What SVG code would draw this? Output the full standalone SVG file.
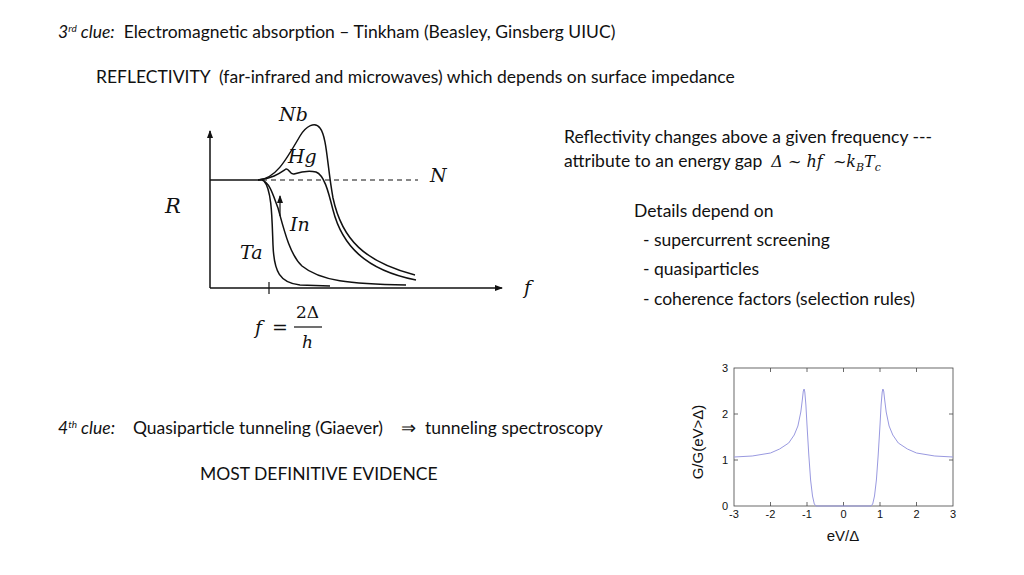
<svg xmlns="http://www.w3.org/2000/svg" width="1024" height="575" viewBox="0 0 1024 575">
<style>
text{white-space:pre}
.t{font-family:Lato,"Liberation Sans",sans-serif;font-size:17.5px;fill:#111}
.m{font-family:"DejaVu Serif","Liberation Serif",serif;font-style:italic;font-size:19px;fill:#111}
.c{fill:none;stroke:#111;stroke-width:1.5}
.g{font-family:"Liberation Sans",sans-serif;font-size:11px;fill:#111}
.gl{font-family:"Liberation Sans",sans-serif;font-size:15px;fill:#111}
</style>
<defs><marker id="ah" markerWidth="8" markerHeight="8" refX="7" refY="4" orient="auto" markerUnits="userSpaceOnUse"><path d="M0,1 L8,4 L0,7 z" fill="#111"/></marker></defs>
<rect width="1024" height="575" fill="#fff"/>
<text class="t" x="58" y="38" xml:space="preserve"><tspan font-style="italic">3<tspan style="font-size:10px" dy="-6">rd</tspan><tspan dy="6"> clue:</tspan></tspan>  Electromagnetic absorption – Tinkham (Beasley, Ginsberg UIUC)</text>
<text class="t" x="96" y="83" xml:space="preserve">REFLECTIVITY  (far-infrared and microwaves) which depends on surface impedance</text>
<g id="reflectivity">
<line x1="210" y1="288" x2="210" y2="131" stroke="#111" stroke-width="1.5" marker-end="url(#ah)"/>
<line x1="210" y1="288" x2="502" y2="288" stroke="#111" stroke-width="1.5" marker-end="url(#ah)"/>
<line x1="269" y1="282" x2="269" y2="294" stroke="#111" stroke-width="1.2"/>
<line x1="262" y1="180" x2="418" y2="180" stroke="#111" stroke-width="1" stroke-dasharray="5,4"/>
<path class="c" d="M210 180 L262 180"/>
<path class="c" d="M258 180 C275 179 285 162 300 136 C306 126 315 121 320 128 C327 137 327 165 333 198 C342 240 365 262 415 275"/>
<path class="c" d="M258 180 C272 179 280 173 286 169 C289 168 290 175 294 174 C300 172 308 170 316 172 C324 175 328 190 333 210 C342 245 365 270 416 280"/>
<path class="c" d="M262 180 C270 183 273 195 278 208 C284 230 290 255 302 266 C320 281 350 284 406 285"/>
<path class="c" d="M264 181 C272 190 272 220 273 245 C274 272 280 283 300 285 L330 286"/>
<line x1="280" y1="216" x2="280" y2="196" stroke="#111" stroke-width="1.2" marker-end="url(#ah)"/>
<text class="m" x="279" y="121">Nb</text>
<text class="m" x="288" y="163">Hg</text>
<text class="m" x="430" y="182">N</text>
<text class="m" x="165" y="213" style="font-size:21px">R</text>
<text class="m" x="290" y="231">In</text>
<text class="m" x="240" y="259">Ta</text>
<text class="m" x="524" y="294">f</text>
<text class="m" x="255" y="334">f</text>
<text x="272" y="334" font-family="DejaVu Serif,serif" font-size="19" fill="#111">=</text>
<text x="296" y="318" font-family="DejaVu Serif,serif" font-size="17" fill="#111">2Δ</text>
<line x1="294" y1="327" x2="322" y2="327" stroke="#111" stroke-width="1.2"/>
<text class="m" x="302" y="348" style="font-size:17px">h</text>
</g>
<text class="t" x="564" y="143">Reflectivity changes above a given frequency ---</text>
<text class="t" x="564" y="167" xml:space="preserve">attribute to an energy gap  <tspan font-family="DejaVu Serif,serif" font-style="italic" style="font-size:16px">Δ ~ hf  ~k<tspan style="font-size:11px" dy="4">B</tspan><tspan dy="-4">T</tspan><tspan style="font-size:11px" dy="4">c</tspan></tspan></text>
<text class="t" x="634" y="217">Details depend on</text>
<text class="t" x="643" y="246">- supercurrent screening</text>
<text class="t" x="643" y="275">- quasiparticles</text>
<text class="t" x="643" y="305">- coherence factors (selection rules)</text>
<text class="t" x="58" y="434" xml:space="preserve"><tspan font-style="italic">4<tspan style="font-size:10px" dy="-6">th</tspan><tspan dy="6"> clue:</tspan></tspan>    Quasiparticle tunneling (Giaever)    ⇒  tunneling spectroscopy</text>
<text class="t" x="200" y="480">MOST DEFINITIVE EVIDENCE</text>
<g id="tunneling">
<rect x="734" y="368" width="219" height="138" fill="none" stroke="#444" stroke-width="0.8"/>
<g stroke="#444" stroke-width="0.8">
<line x1="770.5" y1="506" x2="770.5" y2="502"/><line x1="807" y1="506" x2="807" y2="502"/><line x1="843.5" y1="506" x2="843.5" y2="502"/><line x1="880" y1="506" x2="880" y2="502"/><line x1="916.5" y1="506" x2="916.5" y2="502"/>
<line x1="770.5" y1="368" x2="770.5" y2="372"/><line x1="807" y1="368" x2="807" y2="372"/><line x1="843.5" y1="368" x2="843.5" y2="372"/><line x1="880" y1="368" x2="880" y2="372"/><line x1="916.5" y1="368" x2="916.5" y2="372"/>
<line x1="734" y1="460" x2="738" y2="460"/><line x1="734" y1="414" x2="738" y2="414"/>
<line x1="953" y1="460" x2="949" y2="460"/><line x1="953" y1="414" x2="949" y2="414"/>
</g>
<path fill="none" stroke="#9999e0" stroke-width="1" stroke-linejoin="round" d="M734 457 L752.2 456 L770.5 453 L779.6 449 L788.7 443 L794.2 435 L797.9 426 L800.8 412 L802.3 400 L803.3 391 L804.1 389 L804.8 392 L805.9 405 L807 425 L808.8 455 L810.6 480 L812.5 496 L814.3 504 L816.1 506 L870.9 506 L872.7 504 L874.5 496 L876.4 480 L878.2 455 L880 425 L881.1 405 L882.2 392 L882.9 389 L883.7 391 L884.7 400 L886.2 412 L889.1 426 L892.8 435 L898.3 443 L907.4 449 L916.5 453 L934.8 456 L953 457"/>
<text class="g" x="728" y="372" text-anchor="end">3</text>
<text class="g" x="728" y="418" text-anchor="end">2</text>
<text class="g" x="728" y="464" text-anchor="end">1</text>
<text class="g" x="728" y="510" text-anchor="end">0</text>
<text class="g" x="734" y="518" text-anchor="middle">-3</text>
<text class="g" x="770.5" y="518" text-anchor="middle">-2</text>
<text class="g" x="807" y="518" text-anchor="middle">-1</text>
<text class="g" x="843.5" y="518" text-anchor="middle">0</text>
<text class="g" x="880" y="518" text-anchor="middle">1</text>
<text class="g" x="916.5" y="518" text-anchor="middle">2</text>
<text class="g" x="953" y="518" text-anchor="middle">3</text>
<text class="gl" x="843" y="541" text-anchor="middle">eV/Δ</text>
<text class="gl" x="703" y="442" text-anchor="middle" transform="rotate(-90 703 442)">G/G(eV&gt;Δ)</text>
</g>
</svg>
